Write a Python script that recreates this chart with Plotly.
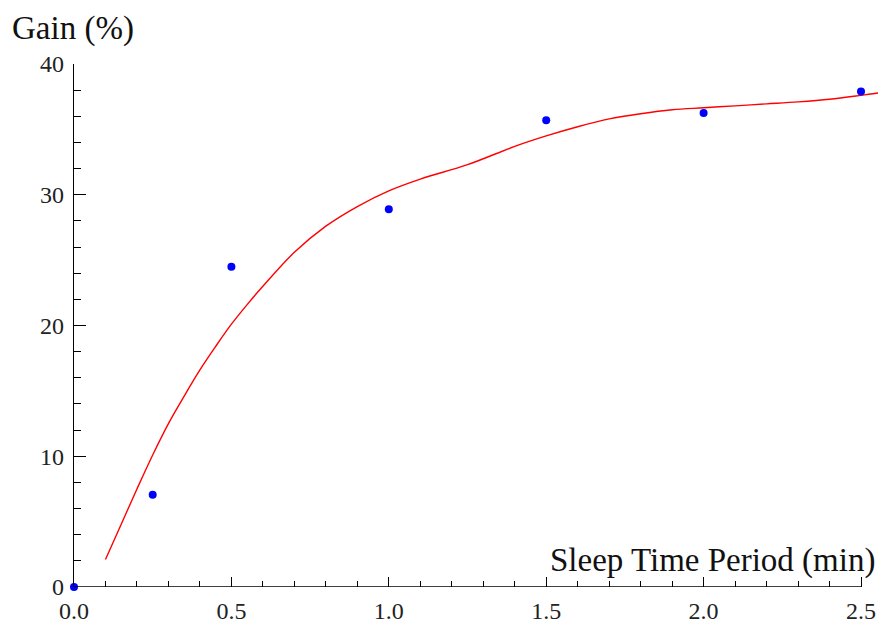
import plotly.graph_objects as go

# Measured gain at each sleep time period
sleep_min = [0.0, 0.25, 0.5, 1.0, 1.5, 2.0, 2.5]
gain_pct = [0.0, 7.05, 24.5, 28.9, 35.7, 36.25, 37.9]

# Fitted trend curve
fit_x = [0.10, 0.15, 0.20, 0.25, 0.30, 0.35, 0.40, 0.45, 0.50, 0.55,
         0.60, 0.70, 0.80, 0.90, 1.00, 1.10, 1.25, 1.40, 1.50, 1.60,
         1.70, 1.80, 1.90, 2.00, 2.10, 2.20, 2.30, 2.40, 2.50, 2.56]
fit_y = [2.1, 4.8, 7.5, 10.1, 12.5, 14.6, 16.6, 18.4, 20.1, 21.6,
         23.0, 25.6, 27.6, 29.1, 30.3, 31.2, 32.3, 33.7, 34.5, 35.2,
         35.8, 36.2, 36.5, 36.65, 36.8, 36.95, 37.1, 37.3, 37.6, 37.8]

x_ticks = [0.0, 0.5, 1.0, 1.5, 2.0, 2.5]
x_tick_text = ["0.0", "0.5", "1.0", "1.5", "2.0", "2.5"]
y_ticks = [0, 10, 20, 30, 40]

FONT = "Liberation Serif, Times New Roman, serif"

fig = go.Figure()
fig.add_trace(go.Scatter(
    x=fit_x, y=fit_y, mode="lines",
    line=dict(color="#ff0000", width=1.4, shape="spline", smoothing=1.0),
    hoverinfo="skip", showlegend=False,
))
fig.add_trace(go.Scatter(
    x=sleep_min, y=gain_pct, mode="markers",
    marker=dict(color="#0000ff", size=8),
    cliponaxis=False, showlegend=False,
))

# Horizontal axis line stops at the last tick
fig.add_shape(type="line", xref="x", yref="y", x0=0, x1=2.5, y0=0, y1=0,
              line=dict(color="black", width=1.4), layer="above")

fig.update_xaxes(
    range=[0, 2.554], showline=False, showgrid=False, zeroline=False,
    tickvals=x_ticks, ticktext=x_tick_text,
    ticks="inside", ticklen=10, tickwidth=1.3, tickcolor="black",
    minor=dict(dtick=0.1, tick0=0, ticks="inside", ticklen=6, tickwidth=1.1,
               tickcolor="black", showgrid=False),
    tickfont=dict(family=FONT, size=24, color="#222"),
    ticklabelstandoff=7,
)
fig.update_yaxes(
    range=[0, 40], showline=True, linecolor="black", linewidth=1.4,
    showgrid=False, zeroline=False,
    tickvals=y_ticks,
    ticks="inside", ticklen=12, tickwidth=1.3, tickcolor="black",
    minor=dict(dtick=2, tick0=0, ticks="inside", ticklen=7, tickwidth=1.1,
               tickcolor="black", showgrid=False),
    tickfont=dict(family=FONT, size=24, color="#222"),
    ticklabelstandoff=4,
)

fig.add_annotation(
    text="Gain (%)", xref="paper", yref="paper", x=-0.0796, y=1.0675,
    xanchor="left", yanchor="middle", showarrow=False,
    font=dict(family=FONT, size=33, color="#111"),
)
fig.add_annotation(
    text="Sleep Time Period (min)", xref="paper", yref="y", x=0.9985, y=2.05,
    xanchor="right", yanchor="middle", showarrow=False,
    font=dict(family=FONT, size=33, color="#111"),
)

fig.update_layout(
    width=878, height=624,
    margin=dict(l=74, r=0, t=64, b=34),
    paper_bgcolor="white", plot_bgcolor="white",
)

fig.write_html("out.html")
